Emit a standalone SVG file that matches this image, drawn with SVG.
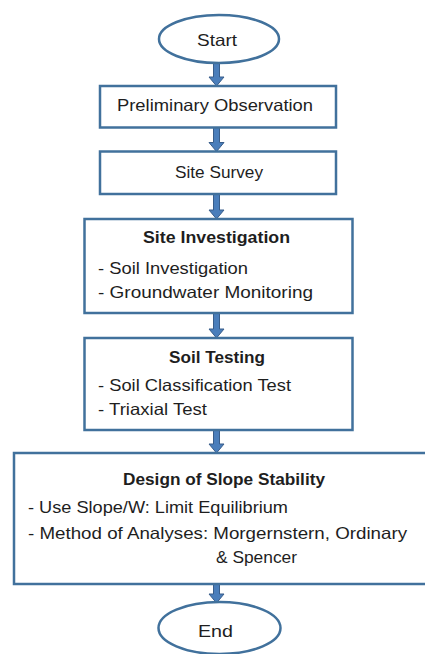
<svg xmlns="http://www.w3.org/2000/svg" width="425" height="654" viewBox="0 0 425 654">
  <style>
    .box { fill: #ffffff; stroke: #41719c; stroke-width: 2.5; }
    .arrow { fill: #4a7ebb; stroke: #385d8a; stroke-width: 1; stroke-linejoin: miter; }
    text { font-family: "Liberation Sans", Arial, sans-serif; font-size: 16.5px; fill: #1e1e1e; }
    .title { font-weight: bold; }
  </style>
  <rect width="425" height="654" fill="#ffffff"/>

  <g id="connectors">
    <path class="arrow" d="M213.5,63 H219.5 V77 H224 L216.5,86 L209,77 H213.5 Z"/>
    <path class="arrow" d="M213.5,127.5 H219.5 V142.5 H224 L216.5,151.5 L209,142.5 H213.5 Z"/>
    <path class="arrow" d="M213.5,194 H219.5 V210 H224 L216.5,219 L209,210 H213.5 Z"/>
    <path class="arrow" d="M213.5,313 H219.5 V329 H224 L216.5,338 L209,329 H213.5 Z"/>
    <path class="arrow" d="M213.5,430 H219.5 V444 H224 L216.5,453 L209,444 H213.5 Z"/>
    <path class="arrow" d="M213.5,584 H219.5 V594 H224 L216.5,603 L209,594 H213.5 Z"/>
  </g>

  <g id="start">
    <ellipse class="box" cx="219" cy="39" rx="60" ry="24"/>
    <text x="197" y="45.5" textLength="40" lengthAdjust="spacingAndGlyphs">Start</text>
  </g>

  <g id="preliminary-observation">
    <rect class="box" x="100" y="86" width="236" height="41.5"/>
    <text x="117" y="110.5" textLength="196" lengthAdjust="spacingAndGlyphs">Preliminary Observation</text>
  </g>

  <g id="site-survey">
    <rect class="box" x="100" y="151.5" width="236" height="42.5"/>
    <text x="175" y="178" textLength="88" lengthAdjust="spacingAndGlyphs">Site Survey</text>
  </g>

  <g id="site-investigation">
    <rect class="box" x="84.5" y="219" width="268" height="94"/>
    <text class="title" x="143" y="243" textLength="147" lengthAdjust="spacingAndGlyphs">Site Investigation</text>
    <text x="98" y="274" textLength="150" lengthAdjust="spacingAndGlyphs">- Soil Investigation</text>
    <text x="98" y="298" textLength="215" lengthAdjust="spacingAndGlyphs">- Groundwater Monitoring</text>
  </g>

  <g id="soil-testing">
    <rect class="box" x="84.5" y="338" width="268" height="92"/>
    <text class="title" x="169" y="363" textLength="96" lengthAdjust="spacingAndGlyphs">Soil Testing</text>
    <text x="98" y="391" textLength="193" lengthAdjust="spacingAndGlyphs">- Soil Classification Test</text>
    <text x="98" y="415" textLength="109" lengthAdjust="spacingAndGlyphs">- Triaxial Test</text>
  </g>

  <g id="design-of-slope-stability">
    <rect class="box" x="14" y="453" width="416" height="131"/>
    <text class="title" x="123" y="485" textLength="202" lengthAdjust="spacingAndGlyphs">Design of Slope Stability</text>
    <text x="28" y="513" textLength="260" lengthAdjust="spacingAndGlyphs">- Use Slope/W:  Limit Equilibrium</text>
    <text x="28" y="539" textLength="379" lengthAdjust="spacingAndGlyphs">- Method of Analyses: Morgernstern, Ordinary</text>
    <text x="216" y="563" textLength="81" lengthAdjust="spacingAndGlyphs">&amp; Spencer</text>
  </g>

  <g id="end">
    <ellipse class="box" cx="219.5" cy="628" rx="61" ry="26"/>
    <text x="198" y="637" textLength="35" lengthAdjust="spacingAndGlyphs">End</text>
  </g>
</svg>
